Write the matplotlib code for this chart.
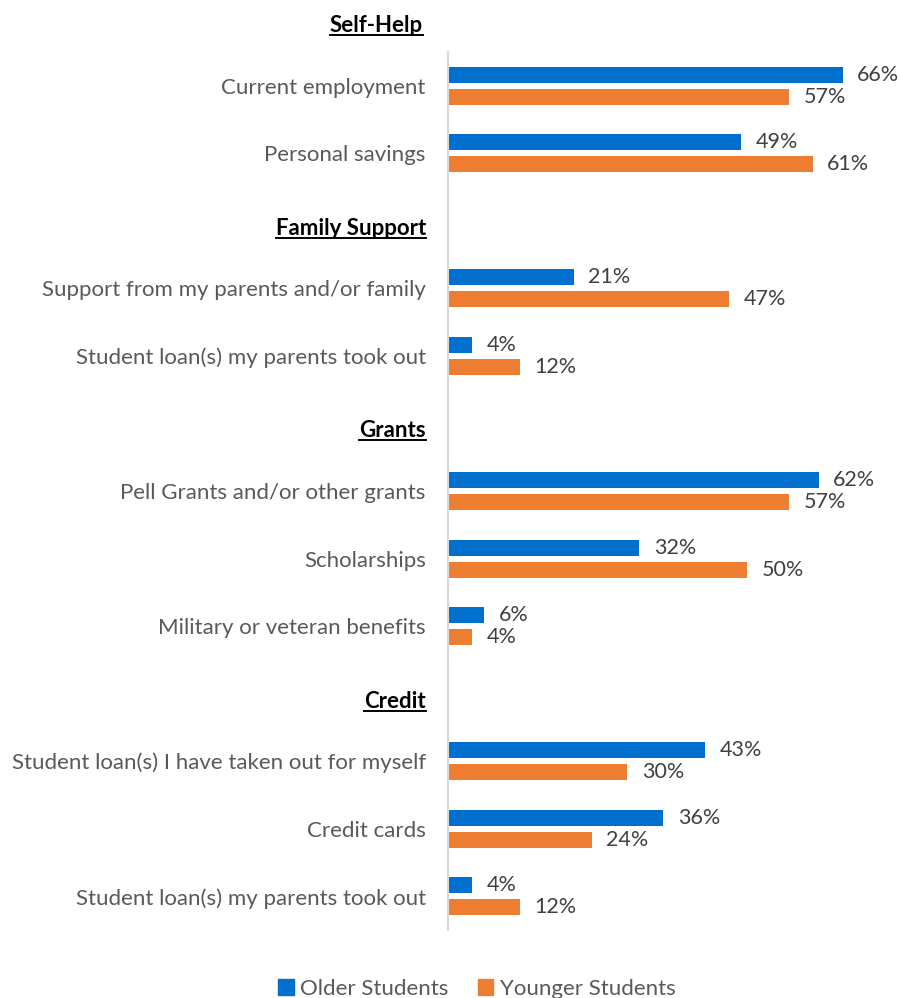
import numpy as np
import matplotlib
matplotlib.use("Agg")
import matplotlib.pyplot as plt
from matplotlib.patches import Patch
from matplotlib.lines import Line2D

plt.rcParams['font.family'] = ['Lato', 'DejaVu Sans']

# ---- data ----
categories = ["Current employment", "Personal savings", "Family Support",
              "Support from my parents and/or family", "Student loan(s) my parents took out",
              "Grants", "Pell Grants and/or other grants", "Scholarships",
              "Military or veteran benefits", "Credit",
              "Student loan(s) I have taken out for myself", "Credit cards",
              "Student loan(s) my parents took out"]
top_header = "Self-Help"
headers = ["Family Support", "Grants", "Credit"]
older = [66, 49, np.nan, 21, 4, np.nan, 62, 32, 6, np.nan, 43, 36, 4]
younger = [57, 61, np.nan, 47, 12, np.nan, 57, 50, 4, np.nan, 30, 24, 12]
series_names = ["Older Students", "Younger Students"]

BLUE = "#0070CC"
ORANGE = "#ED7D31"
GRAY = "#595959"
LABEL = "#404040"
FS = 16
FS_LAB = 15.5

W, H = 900, 998
fig = plt.figure(figsize=(W / 100, H / 100), dpi=100)
ax = fig.add_axes([448 / W, 1 - 930 / H, 1 - 448 / W, (930 - 52) / H])

y = np.arange(len(categories))
bh = 0.237
off = 0.163
older_a = np.array(older, dtype=float)
younger_a = np.array(younger, dtype=float)
mask = ~np.isnan(older_a)

ax.barh(y[mask] - off, older_a[mask], height=bh, color=BLUE, label=series_names[0])
ax.barh(y[mask] + off, younger_a[mask], height=bh, color=ORANGE, label=series_names[1])

for yi, v in zip(y[mask], older_a[mask]):
    ax.annotate(f"{v:.0f}%", (v, yi - off), xytext=(10.5, 0), textcoords="offset points",
                va="center", ha="left", fontsize=FS_LAB, color=LABEL)
for yi, v in zip(y[mask], younger_a[mask]):
    ax.annotate(f"{v:.0f}%", (v, yi + off), xytext=(10.5, 0), textcoords="offset points",
                va="center", ha="left", fontsize=FS_LAB, color=LABEL)

ax.set_xlim(0, (W - 448) / 5.98)
ax.set_ylim(len(categories) - 0.5, -0.5)
ax.set_yticks(y)
ax.set_yticklabels(["" if c in headers else c for c in categories], fontsize=FS, color=GRAY)
ax.tick_params(axis='y', length=0, pad=16)
ax.set_xticks([])
for s in ["top", "right", "bottom"]:
    ax.spines[s].set_visible(False)
ax.spines["left"].set_color("#D9D9D9")
ax.spines["left"].set_linewidth(1.5)

header_texts = []
for yi, cat in zip(y, categories):
    if cat in headers:
        t = ax.annotate(cat, (0, yi + 0.11), xycoords=ax.get_yaxis_transform(),
                        xytext=(-16, 0), textcoords="offset points",
                        ha="right", va="center", fontsize=FS, fontweight="bold", color="black")
        header_texts.append(t)

# top header sits above the plotting area
th = fig.text(423 / W, 1 - 25 / H, top_header, ha="right", va="center",
              fontsize=FS, fontweight="bold", color="black")
header_texts.append(th)

handles = [Patch(color=BLUE), Patch(color=ORANGE)]
fig.legend(handles, series_names, loc="center", bbox_to_anchor=(477 / W, 1 - 989 / H),
           ncol=2, frameon=False, fontsize=FS, labelcolor=GRAY,
           handlelength=0.7, handleheight=0.7, handletextpad=0.3, columnspacing=1.3)

fig.canvas.draw()
r = fig.canvas.get_renderer()
for t in header_texts:
    bb = t.get_window_extent(r)
    yline = (bb.y0 + 1) / H
    fig.add_artist(Line2D([bb.x0 / W, bb.x1 / W], [yline, yline], color="black",
                          linewidth=1.4, transform=fig.transFigure))

fig.savefig("out.png", dpi=100)
